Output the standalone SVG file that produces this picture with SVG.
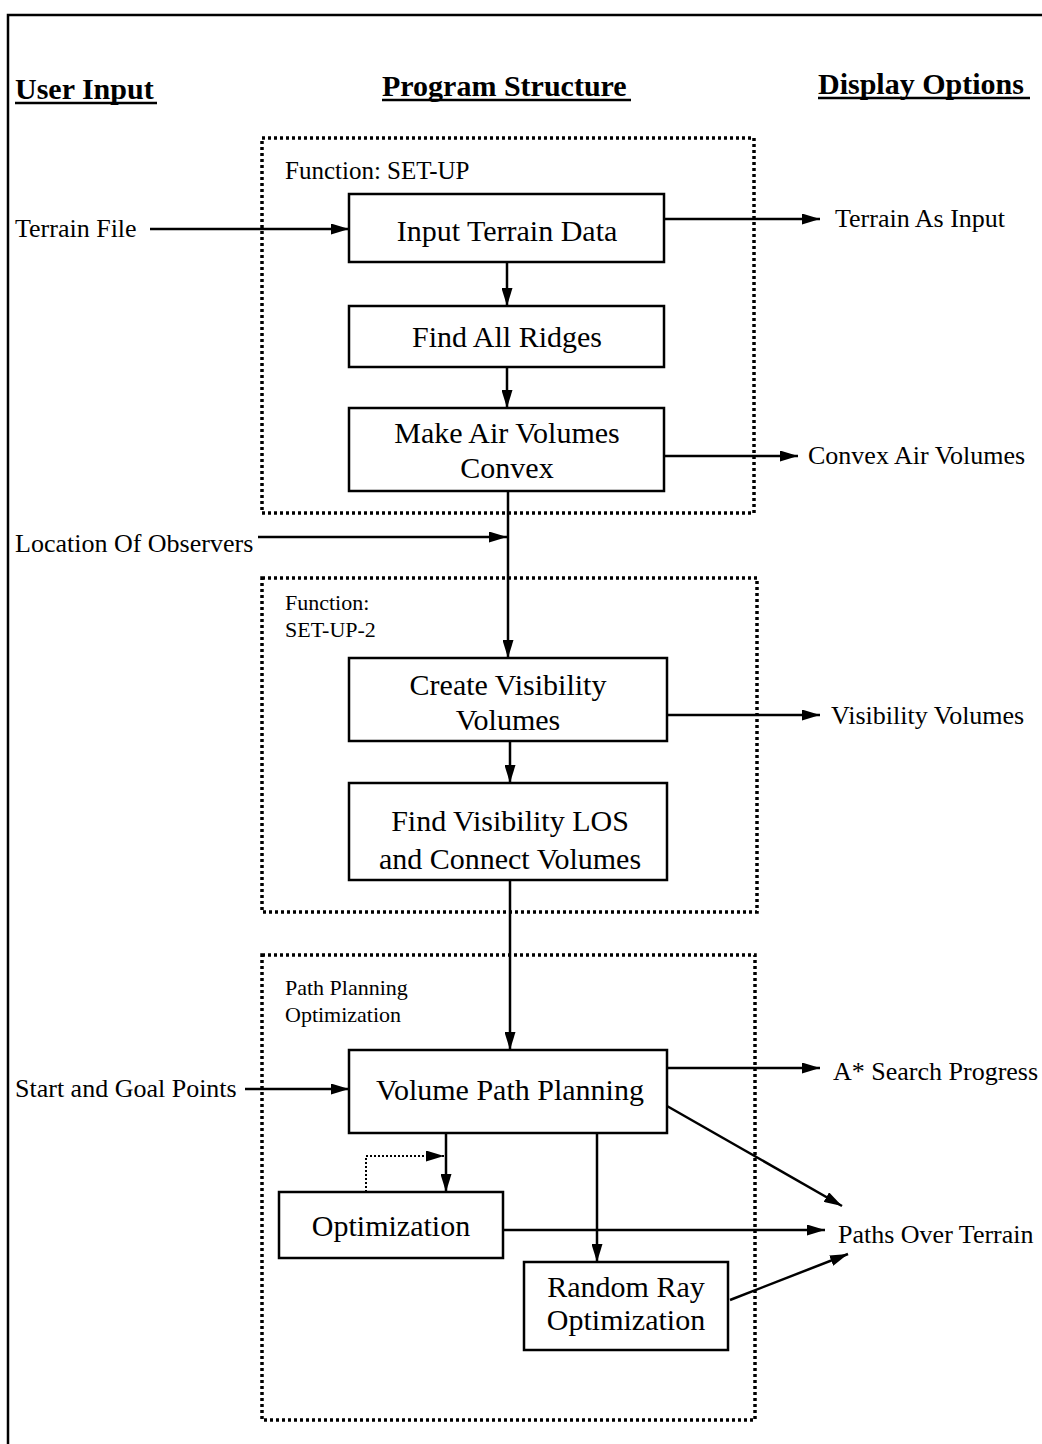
<svg xmlns="http://www.w3.org/2000/svg" width="1042" height="1444" viewBox="0 0 1042 1444">
<style>
text{font-family:"Liberation Serif","Times New Roman",serif;fill:#000}
.h{font-size:30px;font-weight:bold}
.n{font-size:30px;text-anchor:middle}
.s{font-size:26px}
.f{font-size:25px}
.f2{font-size:22px}
.box{fill:#fff;stroke:#000;stroke-width:2.5}
.grp{fill:none;stroke:#000;stroke-width:3.5;stroke-dasharray:3 3}
.c{fill:none;stroke:#000;stroke-width:2.5}
.d{fill:none;stroke:#000;stroke-width:2;stroke-dasharray:2 2}
</style>
<defs>
<marker id="ah" viewBox="0 0 18 11" refX="18" refY="5.5" markerWidth="18" markerHeight="11" markerUnits="userSpaceOnUse" orient="auto">
<path d="M0,0 L18,5.5 L0,11 Z" fill="#000"/>
</marker>
</defs>
<rect width="1042" height="1444" fill="#fff"/>
<g id="frame">
<path d="M1042,15 L8,15 L8,1444" class="c" stroke-width="2"/>
</g>
<g id="headers">
<text class="h" x="15" y="99">User Input</text>
<line x1="15" y1="103" x2="157" y2="103" stroke="#000" stroke-width="2.5"/>
<text class="h" x="382" y="96">Program Structure</text>
<line x1="382" y1="100" x2="631" y2="100" stroke="#000" stroke-width="2.5"/>
<text class="h" x="818" y="94">Display Options</text>
<line x1="818" y1="98" x2="1030" y2="98" stroke="#000" stroke-width="2.5"/>
</g>
<g id="group-setup">
<rect class="grp" x="262" y="138" width="492" height="375"/>
<text class="f" x="285" y="179">Function:  SET-UP</text>
</g>
<g id="group-setup2">
<rect class="grp" x="262" y="578" width="495" height="334"/>
<text class="f2" x="285" y="610">Function:</text>
<text class="f2" x="285" y="637">SET-UP-2</text>
</g>
<g id="group-path">
<rect class="grp" x="262" y="955" width="493" height="465"/>
<text class="f2" x="285" y="995">Path  Planning</text>
<text class="f2" x="285" y="1022">Optimization</text>
</g>
<g id="connectors">
<line class="c" x1="150" y1="229" x2="349" y2="229" marker-end="url(#ah)"/>
<line class="c" x1="664" y1="219" x2="820" y2="219" marker-end="url(#ah)"/>
<line class="c" x1="507" y1="262" x2="507" y2="306" marker-end="url(#ah)"/>
<line class="c" x1="507" y1="367" x2="507" y2="408" marker-end="url(#ah)"/>
<line class="c" x1="664" y1="456" x2="798" y2="456" marker-end="url(#ah)"/>
<line class="c" x1="258" y1="537" x2="507" y2="537" marker-end="url(#ah)"/>
<line class="c" x1="508" y1="491" x2="508" y2="658" marker-end="url(#ah)"/>
<line class="c" x1="667" y1="715" x2="820" y2="715" marker-end="url(#ah)"/>
<line class="c" x1="510" y1="741" x2="510" y2="783" marker-end="url(#ah)"/>
<line class="c" x1="510" y1="880" x2="510" y2="1050" marker-end="url(#ah)"/>
<line class="c" x1="245" y1="1089" x2="349" y2="1089" marker-end="url(#ah)"/>
<line class="c" x1="667" y1="1068" x2="820" y2="1068" marker-end="url(#ah)"/>
<line class="c" x1="446" y1="1133" x2="446" y2="1192" marker-end="url(#ah)"/>
<path class="d" d="M366,1192 L366,1156 L444,1156" marker-end="url(#ah)"/>
<line class="c" x1="597" y1="1133" x2="597" y2="1262" marker-end="url(#ah)"/>
<line class="c" x1="667" y1="1106" x2="842" y2="1206" marker-end="url(#ah)"/>
<line class="c" x1="503" y1="1230" x2="825" y2="1230" marker-end="url(#ah)"/>
<line class="c" x1="730" y1="1300" x2="848" y2="1254" marker-end="url(#ah)"/>
</g>
<g id="n-input-terrain">
<rect class="box" x="349" y="194" width="315" height="68"/>
<text class="n" x="507" y="241">Input  Terrain  Data</text>
</g>
<g id="n-find-ridges">
<rect class="box" x="349" y="306" width="315" height="61"/>
<text class="n" x="507" y="347">Find All Ridges</text>
</g>
<g id="n-make-air">
<rect class="box" x="349" y="408" width="315" height="83"/>
<text class="n" x="507" y="443">Make Air Volumes</text>
<text class="n" x="507" y="478">Convex</text>
</g>
<g id="n-create-vis">
<rect class="box" x="349" y="658" width="318" height="83"/>
<text class="n" x="508" y="695">Create  Visibility</text>
<text class="n" x="508" y="730">Volumes</text>
</g>
<g id="n-find-los">
<rect class="box" x="349" y="783" width="318" height="97"/>
<text class="n" x="510" y="831">Find Visibility LOS</text>
<text class="n" x="510" y="869">and Connect Volumes</text>
</g>
<g id="n-volume-path">
<rect class="box" x="349" y="1050" width="318" height="83"/>
<text class="n" x="510" y="1100">Volume Path Planning</text>
</g>
<g id="n-optimization">
<rect class="box" x="279" y="1192" width="224" height="66"/>
<text class="n" x="391" y="1236">Optimization</text>
</g>
<g id="n-random-ray">
<rect class="box" x="524" y="1262" width="204" height="88"/>
<text class="n" x="626" y="1297">Random Ray</text>
<text class="n" x="626" y="1330">Optimization</text>
</g>
<g id="labels">
<text class="s" x="15" y="237">Terrain File</text>
<text class="s" x="835" y="227">Terrain  As  Input</text>
<text class="s" x="808" y="464">Convex  Air  Volumes</text>
<text class="s" x="15" y="552">Location Of Observers</text>
<text class="s" x="831" y="724">Visibility   Volumes</text>
<text class="s" x="15" y="1097">Start and Goal Points</text>
<text class="s" x="833" y="1080">A* Search Progress</text>
<text class="s" x="838" y="1243">Paths Over Terrain</text>
</g>
</svg>
